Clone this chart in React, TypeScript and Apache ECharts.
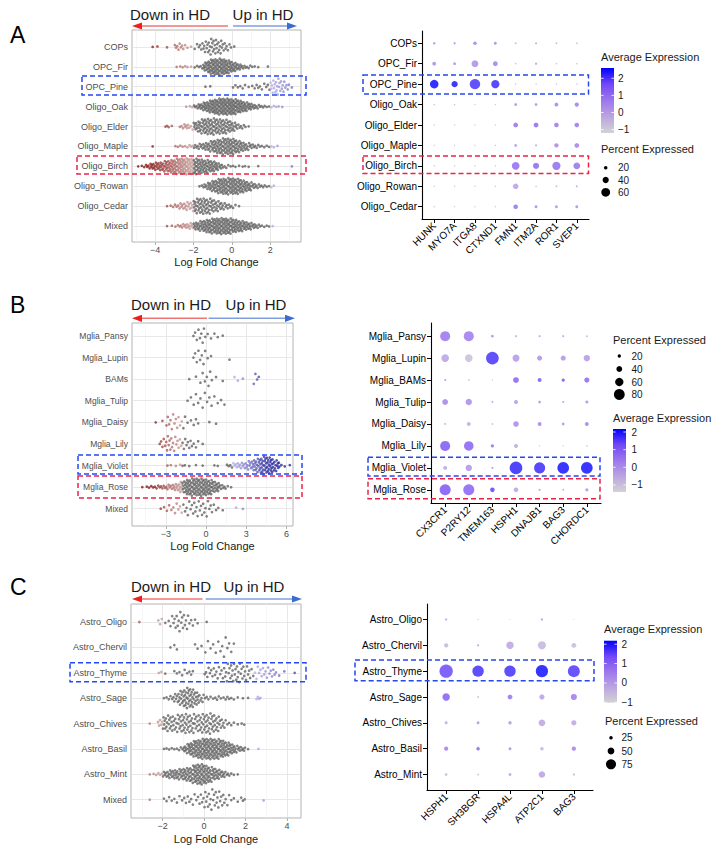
import React, { useEffect, useRef } from "react";
import * as echarts from "echarts";

const FONT = "'Liberation Sans', Arial, Helvetica, sans-serif";

// ================= DATA =================
// ---- Panel A : beeswarm (counts of genes per logFC bin) ----
const A_swarmRows = ["COPs", "OPC_Fir", "OPC_Pine", "Oligo_Oak", "Oligo_Elder", "Oligo_Maple", "Oligo_Birch", "Oligo_Rowan", "Oligo_Cedar", "Mixed"];
const A_binStart = -5.0;
const A_binWidth = 0.25;
const A_swarmCounts = [
  [0,0,0,1,1, 0,1,0,4,4, 2,1,2,4,6, 8,8,7,5,3, 1,0,0,0,0, 0,0,0,0,0, 0,0,0,0,0],
  [0,0,0,0,0, 0,0,0,1,2, 2,1,2,3,10, 16,18,18,17,14, 10,7,4,3,2, 1,0,1,0,0, 0,0,0,0,0],
  [0,0,0,0,0, 0,0,0,0,0, 0,0,0,0,1, 1,0,0,0,0, 2,2,2,1,2, 3,2,3,7,8, 6,4,1,0,0],
  [0,0,0,0,0, 0,0,0,0,0, 1,2,4,7,11, 14,17,19,19,19, 18,15,12,9,6, 4,3,2,2,2, 1,0,0,0,0],
  [0,0,0,0,0, 0,3,1,0,3, 5,3,8,11,13, 13,13,12,12,10, 7,4,3,1,0, 0,0,0,0,0, 0,0,0,0,0],
  [0,0,0,1,0, 0,0,0,2,2, 2,3,4,5,7, 9,12,14,15,15, 14,11,8,6,4, 3,2,2,2,1, 0,0,0,0,0],
  [1,2,4,7,8, 9,11,13,15,16, 16,16,15,14,13, 12,10,6,3,2, 2,1,2,1,0, 1,0,0,0,0, 0,0,1,0,0],
  [0,0,0,0,0, 0,0,0,0,0, 0,0,0,2,5, 9,12,15,16,16, 16,15,12,9,6, 4,3,2,2,0, 0,0,0,0,0],
  [0,0,0,0,0, 0,1,2,3,5, 6,6,11,12,12, 11,9,7,5,4, 2,1,0,0,0, 0,0,0,0,0, 0,0,0,0,0],
  [0,0,0,0,0, 0,1,1,2,4, 5,6,8,10,13, 15,16,17,17,16, 14,12,10,8,6, 4,2,2,1,0, 0,0,0,0,0],
];
const A_xTicks = [-4, -2, 0, 2];
const A_xMinor = [-5, -3, -1, 1, 3];

// ---- Panel A : dot plot ----
const A_dotRows = ["COPs", "OPC_Fir", "OPC_Pine", "Oligo_Oak", "Oligo_Elder", "Oligo_Maple", "Oligo_Birch", "Oligo_Rowan", "Oligo_Cedar"];
const A_genes = ["HUNK", "MYO7A", "ITGA8", "CTXND1", "FMN1", "ITM2A", "ROR1", "SVEP1"];
const A_exp = [
  [0.3, 0.2, 0.6, 0.6, -0.3, 0.0, -0.3, -0.5],
  [0.4, 0.4, 0.4, 0.7, -0.5, 0.1, -0.6, -0.6],
  [2.6, 2.5, 2.1, 2.2, -0.6, -0.8, -0.8, -0.8],
  [-0.6, -0.6, -0.7, -0.6, 0.4, 0.3, 0.7, 0.8],
  [-0.6, -0.6, -0.7, -0.6, 1.0, 1.2, 0.9, 0.9],
  [-0.6, -0.6, -0.7, -0.6, 0.3, 0.0, 0.6, 0.7],
  [-0.7, -0.7, -0.8, -0.7, 1.1, 1.2, 1.1, 1.0],
  [-0.6, -0.6, -0.7, -0.6, 0.0, -0.6, -0.3, 0.0],
  [-0.6, -0.7, -0.7, -0.6, 1.0, 0.6, 0.4, 0.5],
];
const A_pct = [
  [12, 10, 20, 15, 6, 8, 6, 5],
  [22, 14, 45, 30, 4, 10, 4, 4],
  [58, 40, 72, 55, 3, 3, 3, 3],
  [4, 4, 3, 3, 14, 14, 22, 25],
  [3, 3, 3, 3, 30, 30, 28, 28],
  [3, 3, 3, 3, 14, 8, 25, 28],
  [3, 3, 3, 3, 52, 40, 55, 45],
  [3, 3, 3, 3, 35, 4, 6, 8],
  [3, 3, 3, 3, 28, 15, 15, 15],
];
const A_expRange = [-1.2, 2.6];
const A_colorTicks = [2, 1, 0, -1];
const A_sizeTicks = [20, 40, 60];

// ---- Panel B : beeswarm ----
const B_swarmRows = ["Mglia_Pansy", "Mglia_Lupin", "BAMs", "Mglia_Tulip", "Mglia_Daisy", "Mglia_Lily", "Mglia_Violet", "Mglia_Rose", "Mixed"];
const B_binStart = -5.5;
const B_binWidth = 0.5;
const B_swarmCounts = [
  [0,0,0,0,0, 0,0,0,0,4, 5,2,2,1,0, 0,0,0,0,0, 0,0,0,0],
  [0,0,0,0,0, 0,0,0,0,4, 4,2,0,0,1, 0,0,0,0,0, 0,0,0,0],
  [0,0,0,0,0, 0,0,0,1,1, 3,4,1,1,0, 2,1,0,4,0, 0,0,0,0],
  [0,0,0,0,0, 0,0,0,2,3, 3,3,2,2,0, 0,0,0,0,0, 0,0,0,0],
  [0,0,0,1,1, 5,5,4,2,3, 0,1,1,0,0, 0,0,0,0,0, 0,0,0,0],
  [0,0,0,0,5, 8,6,5,5,3, 1,0,0,0,0, 0,0,0,0,0, 0,0,0,0],
  [0,0,0,0,0, 2,1,3,1,1, 1,0,2,0,4, 6,7,9,14,19, 19,12,2,1],
  [0,1,3,4,5, 6,9,15,22,23, 23,20,14,6,2, 0,0,0,0,0, 0,0,0,0],
  [0,0,0,0,2, 3,4,4,5,6, 6,5,3,1,0, 1,1,0,0,0, 0,0,0,0],
];
const B_xTicks = [-3, 0, 3, 6];
const B_xMinor = [-4.5, -1.5, 1.5, 4.5];

// ---- Panel B : dot plot ----
const B_dotRows = ["Mglia_Pansy", "Mglia_Lupin", "Mglia_BAMs", "Mglia_Tulip", "Mglia_Daisy", "Mglia_Lily", "Mglia_Violet", "Mglia_Rose"];
const B_genes = ["CX3CR1", "P2RY12", "TMEM163", "HSPH1", "DNAJB1", "BAG3", "CHORDC1"];
const B_exp = [
  [0.6, 0.5, 0.2, -0.6, -0.1, -0.2, -0.5],
  [-0.3, -0.9, 1.7, -0.1, 0.1, 0.0, -0.1],
  [0.0, -0.9, -1.2, 1.0, 1.2, 1.3, 0.9],
  [0.3, 0.2, -0.1, -0.1, 0.0, -0.1, 0.1],
  [-0.7, -0.5, -0.8, 0.2, 0.3, 0.1, 0.3],
  [1.2, 1.0, 0.7, -0.4, -1.0, -1.0, -0.8],
  [-0.3, 0.0, 0.0, 1.9, 1.8, 2.1, 2.1],
  [1.2, 1.0, 1.5, -0.3, 0.0, -0.4, -0.1],
];
const B_pct = [
  [74, 74, 15, 12, 10, 10, 8],
  [55, 55, 95, 50, 35, 35, 45],
  [10, 8, 5, 40, 25, 20, 35],
  [40, 45, 8, 25, 15, 10, 18],
  [10, 25, 8, 38, 25, 15, 25],
  [74, 70, 20, 25, 4, 4, 6],
  [25, 45, 10, 95, 82, 87, 87],
  [82, 82, 30, 30, 10, 8, 20],
];
const B_expRange = [-1.4, 2.17];
const B_colorTicks = [2, 1, 0, -1];
const B_sizeTicks = [20, 40, 60, 80];

// ---- Panel C : beeswarm ----
const C_swarmRows = ["Astro_Oligo", "Astro_Chervil", "Astro_Thyme", "Astro_Sage", "Astro_Chives", "Astro_Basil", "Astro_Mint", "Mixed"];
const C_binStart = -3.5;
const C_binWidth = 0.25;
const C_swarmCounts = [
  [0,1,0,0,0, 3,1,3,5,6, 5,3,2,0,1, 0,0,0,0,0, 0,0,0,0,0, 0,0,0,0,0, 0,0,0],
  [0,0,0,0,0, 0,0,1,2,0, 0,0,2,1,2, 2,2,3,3,2, 0,0,0,0,0, 0,0,0,0,0, 0,0,0],
  [0,0,0,0,0, 2,1,0,2,2, 2,3,0,0,4, 4,4,4,6,7, 7,6,5,3,4, 4,4,4,1,1, 0,1,0],
  [0,0,0,0,0, 0,2,3,6,10, 14,14,10,5,3, 2,3,2,3,2, 1,1,1,0,4, 0,0,0,0,0, 0,0,0],
  [0,0,0,1,0, 5,9,9,8,10, 11,10,9,10,11, 11,9,6,3,2, 1,2,0,0,0, 0,0,0,0,0, 0,0,0],
  [0,0,0,0,0, 0,2,2,2,3, 8,14,18,20,21, 21,20,18,14,10, 6,5,1,0,1, 0,0,0,0,0, 0,0,0],
  [0,0,0,1,2, 3,6,8,9,10, 12,14,19,20,17, 13,10,7,4,2, 1,0,0,0,0, 0,0,0,0,0, 0,0,0],
  [0,0,0,1,0, 0,2,2,2,2, 3,3,3,4,6, 6,6,5,3,2, 1,3,0,0,0, 1,0,0,0,0, 0,0,0],
];
const C_xTicks = [-2, 0, 2, 4];
const C_xMinor = [-3, -1, 1, 3];

// ---- Panel C : dot plot ----
const C_dotRows = ["Astro_Oligo", "Astro_Chervil", "Astro_Thyme", "Astro_Sage", "Astro_Chives", "Astro_Basil", "Astro_Mint"];
const C_genes = ["HSPH1", "SH3BGR", "HSPA4L", "ATP2C1", "BAG3"];
const C_exp = [
  [0.0, -0.6, -0.8, 0.2, -0.8],
  [-0.4, -0.1, -0.1, -0.4, -0.5],
  [1.5, 1.8, 1.8, 2.15, 1.7],
  [1.2, -0.2, 0.8, 0.0, 0.7],
  [-0.1, 0.3, 0.1, -0.1, -0.1],
  [0.6, 1.0, 0.4, -0.4, 0.6],
  [-0.4, -0.3, -0.1, 0.0, -0.4],
];
const C_pct = [
  [15, 8, 5, 15, 5],
  [30, 15, 55, 60, 35],
  [100, 85, 85, 92, 90],
  [55, 10, 35, 38, 45],
  [20, 20, 25, 50, 38],
  [30, 25, 20, 25, 30],
  [18, 10, 20, 48, 15],
];
const C_expRange = [-1.02, 2.18];
const C_colorTicks = [2, 1, 0, -1];
const C_sizeTicks = [25, 50, 75];

// ================= STYLE / LAYOUT =================
const GRAD = ["#d3d3d3", "#bba5e0", "#9d77ec", "#7248f6", "#0000ff"];
const GRAY_PT = "#626262";
const QR_WIDTH = 0.42;
const SWARM_SYM = 2.7;

const P = {
  A: {
    swarm: { left: 132, top: 30, width: 169, height: 212, xMin: -5.2, xMax: 3.6, yMin: 0.15, yMax: 10.8, labelSize: 9, nameGap: 14, thrDown: -2, thrUp: 2 },
    dot: { left: 422, top: 31, width: 167, height: 188 },
    letterY: 35,
    arrow: { y: 26, redL: 132, redR: 228, blueL: 233, blueR: 297, textY: 14.5, downX: 170, upX: 263 },
    cb: { titleY: 57, x: 601, y: 68, h: 65, labelX: 618 },
    sz: { titleY: 149.3, x: 601, cx: 605.7, ys: [167.7, 180, 192.3], labelX: 618 },
    size: (p: number) => 0.13 * p + 1,
  },
  B: {
    swarm: { left: 132, top: 323, width: 161, height: 203, xMin: -5.52, xMax: 6.49, yMin: 0.4, yMax: 9.8, labelSize: 8.5, nameGap: 14, thrDown: -1.75, thrUp: 2 },
    dot: { left: 431, top: 323, width: 170, height: 180 },
    letterY: 305,
    arrow: { y: 318.3, redL: 132, redR: 207, blueL: 208.5, blueR: 295, textY: 304.7, downX: 171, upX: 256 },
    cb: { titleY: 418, x: 613, y: 429, h: 63, labelX: 631.5 },
    sz: { titleY: 340, x: 613, cx: 619.3, ys: [356, 369, 382, 394.5], labelX: 631.5 },
    size: (p: number) => 0.125 * p + 0.8,
  },
  C: {
    swarm: { left: 131, top: 604, width: 170, height: 214, xMin: -3.53, xMax: 4.68, yMin: 0.29, yMax: 8.72, labelSize: 9, nameGap: 15, thrDown: -2, thrUp: 2.4 },
    dot: { left: 427, top: 604, width: 166, height: 186 },
    letterY: 586.5,
    arrow: { y: 599, redL: 132, redR: 202.5, blueL: 205.7, blueR: 302, textY: 586.7, downX: 171, upX: 254 },
    cb: { titleY: 629.3, x: 604, y: 640.7, h: 62, labelX: 621.5 },
    sz: { titleY: 721, x: 605, cx: 611, ys: [737.7, 751, 764.3], labelX: 621.5 },
    size: (p: number) => 0.13 * p + 0.3,
  },
};

// dashed highlight boxes
const BOXES = [
  { x: 82, y: 76, w: 224, h: 19, c: "blue" },
  { x: 77, y: 156, w: 229, h: 18, c: "red" },
  { x: 363, y: 75, w: 225.5, h: 19, c: "blue" },
  { x: 363, y: 156, w: 225.5, h: 17.5, c: "red" },
  { x: 78, y: 455, w: 224, h: 19, c: "blue" },
  { x: 78, y: 476, w: 224, h: 22, c: "red" },
  { x: 368, y: 457.3, w: 232, h: 18.7, c: "blue" },
  { x: 368, y: 478.7, w: 232, h: 20, c: "red" },
  { x: 70, y: 662.7, w: 236, h: 19, c: "blue" },
  { x: 355, y: 660, w: 239, h: 20.7, c: "blue" },
];

// ================= HELPERS =================
const minus = (v: number) => (v < 0 ? "\u2212" + Math.abs(v) : String(v));

function hexToRgb(h: string) {
  const n = parseInt(h.slice(1), 16);
  return [(n >> 16) & 255, (n >> 8) & 255, n & 255];
}
function mix(a: string, b: string, t: number) {
  const A = hexToRgb(a), B = hexToRgb(b);
  const c = A.map((v, i) => Math.round(v + (B[i] - v) * t));
  return `rgb(${c[0]},${c[1]},${c[2]})`;
}
function pointColor(v: number, lo: number, hi: number) {
  if (v < lo) return mix("#c9a39e", "#861818", Math.min(1, (lo - v) / 2.3));
  if (v > hi) return mix("#b9b2e8", "#2a2a9a", Math.min(1, (v - hi) / 2.6));
  return GRAY_PT;
}

// van der Corput sequence (base 2), as used by quasirandom beeswarm layouts
function vdc(i: number) {
  let v = 0, denom = 1;
  while (i > 0) { denom *= 2; v += (i % 2) / denom; i = Math.floor(i / 2); }
  return v;
}

// quasirandom offsets (row units) scaled by the kernel density of the row
function quasiOffsets(vals: number[]): number[] {
  const n = vals.length;
  if (n < 2) return vals.map(() => 0);
  const mean = vals.reduce((a, b) => a + b, 0) / n;
  const sd = Math.sqrt(vals.reduce((a, b) => a + (b - mean) ** 2, 0) / (n - 1));
  const q = (p: number) => {
    const h = (n - 1) * p; const lo = Math.floor(h);
    return vals[lo] + (h - lo) * (vals[Math.min(lo + 1, n - 1)] - vals[lo]);
  };
  const iqr = q(0.75) - q(0.25);
  let s = Math.min(sd, iqr / 1.34);
  if (!(s > 0)) s = sd > 0 ? sd : 1;
  const bw = 0.5 * 0.9 * s * Math.pow(n, -0.2);
  const dens = vals.map((x) => vals.reduce((acc, y) => acc + Math.exp(-0.5 * ((x - y) / bw) ** 2), 0));
  const mx = Math.max(...dens);
  return vals.map((_, i) => (vdc(i + 1) - 0.5) * 2 * (dens[i] / mx) * QR_WIDTH);
}

function buildSwarm(counts: number[][], start: number, width: number, s: any) {
  const data: any[] = [];
  counts.forEach((row, r) => {
    const vals: number[] = [];
    row.forEach((n, i) => {
      const lo = start + i * width;
      for (let k = 0; k < n; k++) vals.push(lo + ((k + 0.5) * width) / n);
    });
    vals.sort((a, b) => a - b);
    const offs = quasiOffsets(vals);
    vals.forEach((v, k) => {
      data.push({ value: [v, r + 1 + offs[k]], itemStyle: { color: pointColor(v, s.thrDown, s.thrUp) } });
    });
  });
  return data;
}

function buildDots(exp: number[][], pct: number[][]) {
  const d: number[][] = [];
  exp.forEach((row, r) => row.forEach((e, c) => d.push([c + 1, r + 1, e, pct[r][c]])));
  return d;
}

const seq = (n: number) => Array.from({ length: n }, (_, i) => i + 1);

// ================= COMPONENT =================
export default function App() {
  const ref = useRef<HTMLDivElement>(null);

  useEffect(() => {
    if (!ref.current) return;
    const chart = echarts.init(ref.current, undefined, { renderer: "svg" });

    const panels = [
      { L: P.A, rows: A_swarmRows, counts: A_swarmCounts, start: A_binStart, bw: A_binWidth, ticks: A_xTicks, minor: A_xMinor,
        dRows: A_dotRows, genes: A_genes, exp: A_exp, pct: A_pct, range: A_expRange, cTicks: A_colorTicks, sTicks: A_sizeTicks, letter: "A" },
      { L: P.B, rows: B_swarmRows, counts: B_swarmCounts, start: B_binStart, bw: B_binWidth, ticks: B_xTicks, minor: B_xMinor,
        dRows: B_dotRows, genes: B_genes, exp: B_exp, pct: B_pct, range: B_expRange, cTicks: B_colorTicks, sTicks: B_sizeTicks, letter: "B" },
      { L: P.C, rows: C_swarmRows, counts: C_swarmCounts, start: C_binStart, bw: C_binWidth, ticks: C_xTicks, minor: C_xMinor,
        dRows: C_dotRows, genes: C_genes, exp: C_exp, pct: C_pct, range: C_expRange, cTicks: C_colorTicks, sTicks: C_sizeTicks, letter: "C" },
    ];

    const grid: any[] = [], xAxis: any[] = [], yAxis: any[] = [], series: any[] = [], visualMap: any[] = [], graphic: any[] = [];
    const txt = (x: number, y: number, text: string, size: number, extra: any = {}) => ({
      type: "text", x, y, silent: true,
      style: { text, fontSize: size, fontFamily: FONT, fill: "#1a1a1a", align: "left", verticalAlign: "middle", ...extra },
    });

    panels.forEach((pn, pi) => {
      const s = pn.L.swarm;
      const d = pn.L.dot;
      const gS = pi * 2, gD = pi * 2 + 1;
      // ---- swarm grid ----
      grid.push({ left: s.left, top: s.top, width: s.width, height: s.height, show: true, borderColor: "#b3b3b3", borderWidth: 1, backgroundColor: "#fff", containLabel: false, outerBoundsMode: "none" });
      xAxis.push({
        gridIndex: gS, type: "value", min: s.xMin, max: s.xMax,
        axisLine: { show: false }, splitLine: { show: false },
        axisTick: { show: true, customValues: pn.ticks, length: 3, lineStyle: { color: "#b3b3b3", width: 1 } },
        axisLabel: { customValues: pn.ticks, formatter: (v: number) => minus(v), fontSize: 9, color: "#4d4d4d", margin: 3, fontFamily: FONT },
        name: "Log Fold Change", nameLocation: "middle", nameGap: s.nameGap, nameMoveOverlap: false,
        nameTextStyle: { fontSize: 11, color: "#1a1a1a", fontFamily: FONT },
      });
      yAxis.push({
        gridIndex: gS, type: "value", min: s.yMin, max: s.yMax, inverse: true,
        axisLine: { show: false }, splitLine: { show: false },
        axisTick: { show: true, customValues: seq(pn.rows.length), length: 3, lineStyle: { color: "#b3b3b3", width: 1 } },
        axisLabel: { customValues: seq(pn.rows.length), formatter: (v: number) => pn.rows[Math.round(v) - 1] || "", fontSize: s.labelSize, color: "#4d4d4d", margin: 4, fontFamily: FONT },
      });
      const gridLines: any[] = [];
      pn.minor.forEach((v) => gridLines.push({ xAxis: v, lineStyle: { color: "#f1f1f1", width: 0.6, type: "solid" } }));
      pn.ticks.forEach((v) => gridLines.push({ xAxis: v, lineStyle: { color: "#e2e2e2", width: 0.8, type: "solid" } }));
      pn.rows.forEach((_, i) => gridLines.push({ yAxis: i + 1, lineStyle: { color: "#e2e2e2", width: 0.8, type: "solid" } }));
      series.push({
        type: "scatter", xAxisIndex: gS, yAxisIndex: gS, z: 3,
        symbol: "circle", symbolSize: SWARM_SYM, silent: true, emphasis: { disabled: true },
        data: buildSwarm(pn.counts, pn.start, pn.bw, s),
        markLine: { silent: true, z: 1, symbol: ["none", "none"], label: { show: false }, emphasis: { disabled: true }, lineStyle: { type: "solid" }, data: gridLines },
      });

      // ---- dot plot grid ----
      grid.push({ left: d.left, top: d.top, width: d.width, height: d.height, show: false, containLabel: false, outerBoundsMode: "none" });
      xAxis.push({
        gridIndex: gD, type: "value", min: 0.4, max: pn.genes.length + 0.6,
        axisLine: { show: true, onZero: false, lineStyle: { color: "#000", width: 1.1 } },
        splitLine: { show: false },
        axisTick: { show: true, customValues: seq(pn.genes.length), length: 4, lineStyle: { color: "#000", width: 1 } },
        axisLabel: { customValues: seq(pn.genes.length), formatter: (v: number) => pn.genes[Math.round(v) - 1] || "", rotate: 45, fontSize: 10, color: "#000", margin: 5, fontFamily: FONT },
      });
      yAxis.push({
        gridIndex: gD, type: "value", min: 0.4, max: pn.dRows.length + 0.6, inverse: true,
        axisLine: { show: true, onZero: false, lineStyle: { color: "#000", width: 1.1 } },
        splitLine: { show: false },
        axisTick: { show: true, customValues: seq(pn.dRows.length), length: 4, lineStyle: { color: "#000", width: 1 } },
        axisLabel: { customValues: seq(pn.dRows.length), formatter: (v: number) => pn.dRows[Math.round(v) - 1] || "", fontSize: 10, color: "#000", margin: 5, fontFamily: FONT },
      });
      const sizeFn = pn.L.size;
      series.push({
        type: "scatter", xAxisIndex: gD, yAxisIndex: gD, z: 3, silent: true, emphasis: { disabled: true },
        symbol: "circle", symbolSize: (val: number[]) => sizeFn(val[3]),
        data: buildDots(pn.exp, pn.pct),
      });
      visualMap.push({
        type: "continuous", show: false, seriesIndex: series.length - 1, dimension: 2,
        min: pn.range[0], max: pn.range[1], inRange: { color: GRAD },
      });

      // ---- letter ----
      graphic.push(txt(10, pn.L.letterY, pn.letter, 23, { fill: "#000" }));
      // ---- arrows ----
      const a = pn.L.arrow;
      graphic.push(txt(a.downX, a.textY, "Down in HD", 15, { align: "center" }));
      graphic.push(txt(a.upX, a.textY, "Up in HD", 15, { align: "center" }));
      graphic.push({ type: "line", silent: true, shape: { x1: a.redL + 9, y1: a.y, x2: a.redR, y2: a.y }, style: { stroke: "#f07474", lineWidth: 1.4 } });
      graphic.push({ type: "polygon", silent: true, shape: { points: [[a.redL, a.y], [a.redL + 10, a.y - 3.6], [a.redL + 10, a.y + 3.6]] }, style: { fill: "#ef1f1f" } });
      graphic.push({ type: "line", silent: true, shape: { x1: a.blueL, y1: a.y, x2: a.blueR - 9, y2: a.y }, style: { stroke: "#819ee0", lineWidth: 1.4 } });
      graphic.push({ type: "polygon", silent: true, shape: { points: [[a.blueR, a.y], [a.blueR - 10, a.y - 3.6], [a.blueR - 10, a.y + 3.6]] }, style: { fill: "#3c6cd2" } });

      // ---- colour bar legend ----
      const cb = pn.L.cb;
      const [mn, mx] = pn.range;
      graphic.push(txt(cb.x, cb.titleY, "Average Expression", 11));
      graphic.push({
        type: "rect", silent: true, shape: { x: cb.x, y: cb.y, width: 13, height: cb.h },
        style: { fill: new echarts.graphic.LinearGradient(0, 1, 0, 0, GRAD.map((c, i) => ({ offset: i / (GRAD.length - 1), color: c }))) },
      });
      pn.cTicks.forEach((t) => {
        const ty = cb.y + (cb.h * (mx - t)) / (mx - mn);
        graphic.push({ type: "line", silent: true, shape: { x1: cb.x, y1: ty, x2: cb.x + 2.6, y2: ty }, style: { stroke: "#fff", lineWidth: 0.8 } });
        graphic.push({ type: "line", silent: true, shape: { x1: cb.x + 10.4, y1: ty, x2: cb.x + 13, y2: ty }, style: { stroke: "#fff", lineWidth: 0.8 } });
        graphic.push(txt(cb.labelX, ty, minus(t), 10));
      });
      // ---- size legend ----
      const sz = pn.L.sz;
      graphic.push(txt(sz.x, sz.titleY, "Percent Expressed", 11));
      pn.sTicks.forEach((p, i) => {
        graphic.push({ type: "circle", silent: true, shape: { cx: sz.cx, cy: sz.ys[i], r: sizeFn(p) / 2 }, style: { fill: "#000" } });
        graphic.push(txt(sz.labelX, sz.ys[i], String(p), 10));
      });
    });

    BOXES.forEach((b) => {
      graphic.push({
        type: "rect", silent: true, z: 100, shape: { x: b.x, y: b.y, width: b.w, height: b.h },
        style: { fill: "none", stroke: b.c === "blue" ? "#2447ef" : "#ec2346", lineWidth: 1.5, lineDash: [5, 3] },
      });
    });

    chart.setOption({
      animation: false,
      backgroundColor: "#fff",
      textStyle: { fontFamily: FONT },
      grid, xAxis, yAxis, series, visualMap, graphic,
    });
    return () => chart.dispose();
  }, []);

  return <div ref={ref} style={{ position: "absolute", left: 0, top: 0, width: 722, height: 851, background: "#fff" }} />;
}
